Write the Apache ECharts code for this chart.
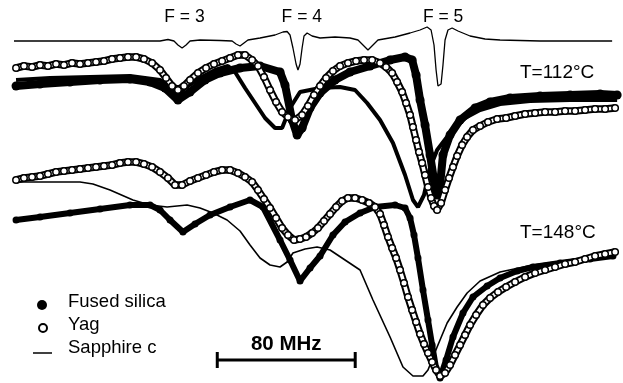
<!DOCTYPE html>
<html>
<head>
<meta charset="utf-8">
<script src="https://cdn.jsdelivr.net/npm/echarts@6/dist/echarts.min.js"></script>
<style>
  html, body { margin: 0; padding: 0; background: #fff; }
  #chart { width: 623px; height: 383px; }
</style>
</head>
<body>
<div id="chart"></div>
<script>
// x = detuning (MHz), y = signal offset (arb. units, larger = lower on the page)

// reference (saturated absorption) spectrum at the top
const refSpectrum = [[8.1,41],[58,41],[92.8,41],[97.4,39.5],[100.9,41],[103.2,45],[105.6,48],[107.9,45],[110.2,41],[116,40],[127.6,40.5],[134.6,41],[136.9,44],[139.2,46],[141.5,43],[143.8,40],[150.8,38],[159.5,35],[164.1,32],[166.5,31.5],[168.2,35],[169.9,48],[171.7,64],[172.8,70],[174,64],[175.2,48],[176.3,36],[178.1,33],[181,36],[185.6,38],[194.3,37],[203,38],[207.6,40],[210.5,45],[213.4,50],[216.3,45],[219.2,40],[229.1,37],[237.8,33],[243.6,30],[247.7,27],[250,30],[251.7,45],[252.9,70],[254,86],[254.6,88],[255.8,84],[256.9,65],[258.1,40],[259.8,30],[262.2,28],[265.6,31],[272.6,36],[281.3,39],[290,40],[313.2,41],[336.4,41],[355,41]];

// T = 112 °C
const fused112 = [[9.3,86],[23.2,84],[40.6,82],[58,80],[75.4,79],[87,82],[95.7,88],[103.2,100],[110.2,92],[118.9,80],[127.6,73],[139.2,68],[150.8,66],[162.4,72],[165.3,85],[169.4,120],[172.3,135],[175.2,128],[179.8,108],[185.6,93],[194.3,80],[203,72],[214.6,66],[226.2,60],[234.9,57],[239,60],[241.3,75],[243.6,100],[246.5,125],[249.4,155],[251.7,180],[253.5,195],[255.2,185],[256.9,155],[261,135],[266.8,120],[275.5,108],[284.2,102],[295.8,98],[313.2,96],[330.6,95],[348,94],[357.9,95]];
const yag112 = [[9.3,68],[13.9,66],[18.6,67],[23.2,65],[27.8,66],[32.5,64],[37.1,65],[41.8,63],[46.4,64],[51,63],[55.7,62],[60.3,61],[65,59],[69.6,58],[74.2,57],[78.9,57],[83.5,59],[88.2,63],[92.8,70],[96.3,78],[99.8,86],[103.2,90],[106.7,86],[110.2,80],[114.8,73],[119.5,68],[124.1,64],[128.8,61],[133.4,58],[138,55],[142.1,55],[146.2,60],[149.6,66],[153.1,77],[156.6,90],[160.1,102],[163.6,112],[167,117],[171.1,120],[175.2,115],[178.6,106],[182.1,95],[185.6,86],[189.1,78],[193.1,71],[197.2,66],[201.8,63],[206.5,61],[211.1,60],[215.8,60],[220.4,63],[223.9,67],[227.4,73],[230.3,82],[233.2,92],[235.5,103],[237.8,115],[239.5,127],[241.3,140],[243,152],[244.8,163],[246.5,175],[248.2,187],[250,198],[251.7,206],[253.5,210],[255.8,203],[258.1,190],[260.4,178],[262.7,167],[265.1,156],[268,145],[270.9,137],[274.3,130],[278.4,126],[283,122],[288.3,119],[293.5,118],[298.7,116],[304.5,114],[310.3,113],[316.1,112],[321.9,112],[327.7,111],[333.5,111],[339.3,110],[345.1,109],[350.9,109],[356.7,108]];
const sapphire112 = [[9.3,80],[29,78],[52.2,77],[75.4,76],[92.8,80],[99.8,88],[103.2,97],[107.3,88],[116,78],[124.7,70],[132.2,66],[136.3,72],[142.1,88],[147.9,103],[153.7,118],[159.5,128],[163.6,128],[168.2,108],[174,92],[185.6,88],[197.2,87],[205.9,90],[212.9,103],[220.4,120],[227.9,143],[234.9,175],[239.5,200],[242.4,207],[245.9,195],[249.4,168],[253.5,150],[261,133],[269.7,118],[278.4,110],[290,104],[307.4,101],[330.6,100],[357.9,100]];

// T = 148 °C
const fused148 = [[9.3,220],[23.2,217],[40.6,213],[58,209],[75.4,205],[87,205],[92.8,210],[98.6,220],[106.1,232],[113.1,224],[121.8,215],[133.4,207],[145,200],[152.5,207],[162.4,240],[168.2,260],[174,281],[179.8,268],[185.6,256],[193.1,235],[200.1,222],[208.8,213],[217.5,207],[229.1,205],[234.9,208],[237.8,218],[240.1,235],[242.4,258],[245.3,290],[248.2,320],[250.6,345],[252.9,368],[255.2,378],[258.7,360],[262.7,337],[268.5,313],[274.3,297],[282.5,286],[290,278],[299.9,271],[309.1,267],[324.8,263],[342.2,259],[355.5,256]];
const yag148 = [[9.3,180],[13.9,178],[18.6,177],[23.2,176],[27.8,174],[32.5,172],[37.1,171],[41.8,170],[46.4,169],[51,168],[55.7,167],[60.3,166],[65,165],[69.6,163],[74.2,162],[78.9,162],[83.5,164],[88.2,167],[92.8,172],[97.4,178],[101.5,185],[105.6,185],[110.2,181],[114.8,178],[119.5,175],[124.1,172],[128.8,170],[133.4,170],[138,173],[142.1,177],[146.2,182],[149.6,190],[153.1,199],[156.6,208],[160.1,218],[163.6,228],[167,235],[170.5,240],[174,239],[177.5,237],[181,233],[184.4,228],[187.9,221],[191.4,214],[194.9,207],[198.4,201],[201.8,198],[205.9,198],[210,200],[214,203],[217.5,207],[220.4,214],[222.7,225],[225,237],[227.4,248],[229.7,258],[232,270],[234.3,283],[236.6,297],[239,310],[241.3,322],[243.6,334],[245.9,344],[248.2,353],[250.6,362],[252.9,370],[255.2,376],[258.1,373],[261,365],[263.9,355],[266.8,345],[269.7,335],[272.6,325],[276.1,315],[280.1,305],[284.2,298],[288.8,292],[293.5,287],[298.7,282],[304.5,277],[310.3,273],[316.1,270],[321.9,267],[327.7,264],[333.5,262],[339.3,259],[345.1,256],[350.9,254],[356.7,252]];
const sapphire148 = [[9.3,182],[29,182],[46.4,182],[53.9,184],[63.8,190],[77.1,200],[87,205],[96.9,207],[108.5,205],[116,208],[123.5,213],[131.7,220],[139.2,231],[145,245],[150.8,258],[156.6,265],[162.4,267],[166.5,262],[169.9,253],[176.9,249],[183.9,247],[191.4,250],[200.1,260],[208.8,270],[216.3,300],[226.2,337],[233.7,367],[239.5,376],[245.3,376],[248.2,370],[253.5,347],[259.3,323],[265.1,307],[270.9,293],[278.4,281],[290,272],[309.1,265],[330.6,260],[355.5,255]];

// annotations
const hyperfineLabels = [['F = 3', 107], ['F = 4', 175], ['F = 5', 257]];
const tempLabels = [['T=112°C', 73], ['T=148°C', 233]];
const scaleBarStart = 126;
const scaleBarMHz = 80;
const legendNames = ['Fused silica', 'Yag', 'Sapphire c'];

const FONT = '"Liberation Sans", Arial, sans-serif';
const myChart = echarts.init(document.getElementById('chart'));

function fusedSeries(data, width) {
  return {
    name: 'Fused silica', type: 'line', data, z: 2,
    symbol: 'circle', symbolSize: width + 1, showAllSymbol: true,
    itemStyle: { color: '#000' },
    lineStyle: { color: '#000', width }
  };
}
function sapphireSeries(data, width) {
  return {
    name: 'Sapphire c', type: 'line', data, z: 3, symbol: 'none',
    lineStyle: { color: '#000', width }
  };
}
function yagSeries(data) {
  // open circles: dark outline tube + white core + hollow markers
  return [
    { name: 'Yag-edge', type: 'line', data, z: 4, symbol: 'none',
      lineStyle: { color: '#000', width: 7.5 } },
    { name: 'Yag', type: 'line', data, z: 5,
      symbol: 'circle', symbolSize: 6.5, showAllSymbol: true,
      itemStyle: { color: '#fff', borderColor: '#000', borderWidth: 1.5 },
      lineStyle: { color: '#fff', width: 3.5 } }
  ];
}

const option = {
  animation: false,
  backgroundColor: '#fff',
  grid: { left: 0, right: 0, top: 0, bottom: 0 },
  xAxis: { type: 'value', min: 0, max: 361.3, show: false },
  yAxis: { type: 'value', min: 0, max: 383, inverse: true, show: false },
  series: [
    { name: 'reference', type: 'line', data: refSpectrum, symbol: 'none', z: 2,
      lineStyle: { color: '#000', width: 1.3 } },
    fusedSeries(fused112, 8),
    sapphireSeries(sapphire112, 4),
    ...yagSeries(yag112),
    fusedSeries(fused148, 6),
    sapphireSeries(sapphire148, 1.6),
    ...yagSeries(yag148)
  ]
};
myChart.setOption(option);

// text and scale bar placed through the chart's own coordinate system
const px = x => myChart.convertToPixel({ xAxisIndex: 0 }, x);
const graphics = [];
hyperfineLabels.forEach(([t, x]) => {
  graphics.push({ type: 'text', x: px(x), y: 17,
    style: { text: t, font: '17.5px ' + FONT, fill: '#000', textAlign: 'center', textVerticalAlign: 'middle' } });
});
tempLabels.forEach(([t, y]) => {
  graphics.push({ type: 'text', x: 520, y,
    style: { text: t, font: '19px ' + FONT, fill: '#000', textAlign: 'left', textVerticalAlign: 'middle' } });
});
const x0 = px(scaleBarStart), x1 = px(scaleBarStart + scaleBarMHz);
graphics.push(
  { type: 'line', shape: { x1: x0, y1: 360, x2: x1, y2: 360 }, style: { stroke: '#000', lineWidth: 3 } },
  { type: 'line', shape: { x1: x0, y1: 352, x2: x0, y2: 368 }, style: { stroke: '#000', lineWidth: 3 } },
  { type: 'line', shape: { x1: x1, y1: 352, x2: x1, y2: 368 }, style: { stroke: '#000', lineWidth: 3 } },
  { type: 'text', x: (x0 + x1) / 2, y: 344,
    style: { text: scaleBarMHz + ' MHz', font: 'bold 20.5px ' + FONT, fill: '#000', textAlign: 'center', textVerticalAlign: 'middle' } }
);
// legend
graphics.push(
  { type: 'circle', shape: { cx: 42, cy: 305, r: 5 }, style: { fill: '#000' } },
  { type: 'circle', shape: { cx: 43, cy: 328, r: 4 }, style: { fill: '#fff', stroke: '#000', lineWidth: 2 } },
  { type: 'line', shape: { x1: 33, y1: 353, x2: 52, y2: 353 }, style: { stroke: '#000', lineWidth: 1.5 } }
);
legendNames.forEach((t, i) => {
  graphics.push({ type: 'text', x: 68, y: 302 + i * 23,
    style: { text: t, font: '18.5px ' + FONT, fill: '#000', textAlign: 'left', textVerticalAlign: 'middle' } });
});
myChart.setOption({ graphic: graphics });
</script>
</body>
</html>
